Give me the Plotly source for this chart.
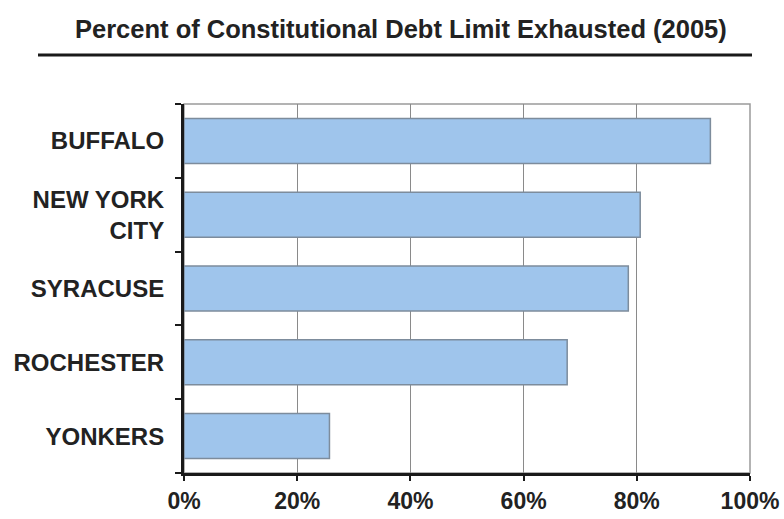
import plotly.graph_objects as go

cities = ["BUFFALO", "NEW YORK<br>CITY", "SYRACUSE", "ROCHESTER", "YONKERS"]
pct_exhausted = [93.0, 80.6, 78.5, 67.7, 25.7]
x_ticks = [0, 20, 40, 60, 80, 100]
x_tick_labels = ["0%", "20%", "40%", "60%", "80%", "100%"]
title_text = "Percent of Constitutional Debt Limit Exhausted (2005)"

FONT = "Liberation Sans, Arial, sans-serif"

fig = go.Figure()
fig.add_trace(go.Bar(
    y=cities,
    x=pct_exhausted,
    orientation="h",
    width=0.61,
    marker=dict(color="#9FC5EC", line=dict(color="#7D8C9C", width=1.5)),
))

fig.update_layout(
    width=784, height=519,
    margin=dict(l=184, r=34, t=104, b=46, autoexpand=False),
    paper_bgcolor="white", plot_bgcolor="white",
    showlegend=False,
    font=dict(family=FONT, color="#222222"),
    xaxis=dict(
        range=[0, 100], tickvals=x_ticks, ticktext=x_tick_labels,
        showgrid=True, gridcolor="#8a8a8a", gridwidth=1,
        showline=True, linecolor="#1a1a1a", linewidth=3,
        ticks="outside", ticklen=5, tickwidth=2, tickcolor="#1a1a1a",
        tickfont=dict(family=FONT, size=23, color="#222222", weight="bold"),
        zeroline=False, fixedrange=True, automargin=False,
        ticklabeloverflow="allow",
    ),
    yaxis=dict(
        categoryorder="array", categoryarray=cities[::-1],
        tickson="boundaries",
        showgrid=False,
        showline=True, linecolor="#1a1a1a", linewidth=3,
        ticks="outside", ticklen=6, tickwidth=2, tickcolor="#1a1a1a",
        tickfont=dict(family=FONT, size=24, color="#222222", weight="bold"),
        ticklabelstandoff=12, automargin=False, fixedrange=True,
    ),
    shapes=[
        dict(type="rect", xref="paper", yref="paper", x0=0, x1=1, y0=0, y1=1,
             line=dict(color="#9a9a9a", width=1.5), layer="below"),
        dict(type="line", xref="paper", yref="paper",
             x0=(38 - 184) / 566, x1=(752 - 184) / 566,
             y0=(473 - 55) / 369, y1=(473 - 55) / 369,
             line=dict(color="#1a1a1a", width=3)),
    ],
    annotations=[
        dict(text="<b>" + title_text + "</b>", xref="paper", yref="paper",
             x=(401 - 184) / 566, y=(473 - 29) / 369, xanchor="center", yanchor="middle",
             showarrow=False, font=dict(family=FONT, size=25.5, color="#222222")),
    ],
)

fig.write_html(
    "out.html",
    config={"displayModeBar": False},
    post_script="document.body.style.margin='0';document.body.style.overflow='hidden';",
)
